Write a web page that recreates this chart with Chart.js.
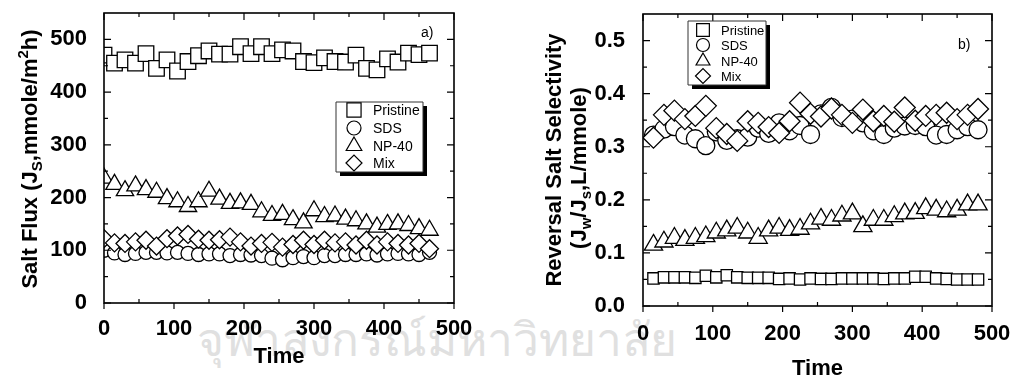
<!DOCTYPE html>
<html>
<head>
<meta charset="utf-8">
<script src="https://cdn.jsdelivr.net/npm/chart.js@4.4.0/dist/chart.umd.min.js"></script>
<style>
html, body { margin: 0; padding: 0; background: #fff; }
#wrap { position: relative; width: 1016px; height: 378px; overflow: hidden; }
.panel { position: absolute; top: 0; width: 508px; height: 378px; }
#panelA { left: 0; }
#panelB { left: 508px; }
#mark { position: absolute; left: 197px; top: 318px; font-size: 46px; line-height: 46px; color: #e0e0e0; white-space: nowrap; }
</style>
</head>
<body>
<div id="wrap">
  <div id="mark">จุฬาลงกรณ์มหาวิทยาลัย</div>
  <div class="panel" id="panelA"><canvas id="chartA" width="508" height="378"></canvas></div>
  <div class="panel" id="panelB"><canvas id="chartB" width="508" height="378"></canvas></div>
</div>
<script>
// panel a) salt flux
const timeA = [0, 15, 30, 45, 60, 75, 90, 105, 120, 135, 150, 165, 180, 195, 210, 225,
    240, 255, 270, 285, 300, 315, 330, 345, 360, 375, 390, 405, 420, 435, 450, 465];
const pristineA = [470, 455, 461, 455, 473, 445, 461, 440, 458, 469, 478, 472, 472, 486, 473, 486,
    473, 480, 478, 458, 456, 465, 458, 457, 470, 445, 442, 463, 457, 474, 471, 474];
const sdsA = [100, 95, 92, 94, 96, 96, 95, 96, 94, 92, 93, 93, 90, 92, 91, 90,
    85, 82, 86, 88, 86, 90, 90, 92, 92, 93, 91, 93, 94, 93, 92, 96];
const np40A = [237, 225, 213, 222, 215, 210, 198, 192, 183, 192, 212, 197, 189, 190, 187, 173,
    166, 168, 158, 152, 175, 164, 165, 159, 156, 150, 144, 149, 150, 147, 141, 138];
const mixA = [122, 114, 113, 116, 119, 108, 122, 127, 130, 121, 119, 120, 125, 116, 108, 113,
    115, 106, 111, 119, 111, 119, 114, 116, 110, 119, 110, 116, 113, 110, 113, 103];

// panel b) reversal salt selectivity
const timeB = [15, 30, 45, 60, 75, 90, 105, 120, 135, 150, 165, 180, 195, 210, 225, 240,
    255, 270, 285, 300, 315, 330, 345, 360, 375, 390, 405, 420, 435, 450, 465, 480];
const pristineB = [0.052, 0.054, 0.054, 0.054, 0.053, 0.057, 0.054, 0.058, 0.054, 0.053, 0.053, 0.053, 0.051, 0.052, 0.050, 0.052,
    0.051, 0.051, 0.052, 0.052, 0.052, 0.052, 0.051, 0.052, 0.052, 0.055, 0.055, 0.052, 0.051, 0.050, 0.050, 0.050];
const sdsB = [0.322, 0.333, 0.338, 0.322, 0.315, 0.302, 0.328, 0.312, 0.315, 0.318, 0.335, 0.325, 0.345, 0.330, 0.340, 0.323,
    0.362, 0.374, 0.355, 0.352, 0.345, 0.330, 0.323, 0.335, 0.339, 0.340, 0.338, 0.322, 0.323, 0.332, 0.338, 0.332];
const np40B = [0.115, 0.121, 0.128, 0.124, 0.128, 0.131, 0.138, 0.142, 0.147, 0.138, 0.128, 0.142, 0.147, 0.143, 0.145, 0.155,
    0.164, 0.162, 0.170, 0.174, 0.150, 0.162, 0.162, 0.169, 0.174, 0.175, 0.184, 0.181, 0.178, 0.181, 0.191, 0.191];
const mixB = [0.317, 0.360, 0.368, 0.352, 0.358, 0.377, 0.335, 0.324, 0.311, 0.348, 0.345, 0.337, 0.326, 0.348, 0.383, 0.362,
    0.357, 0.372, 0.360, 0.345, 0.370, 0.348, 0.358, 0.347, 0.374, 0.349, 0.358, 0.360, 0.364, 0.352, 0.360, 0.371];

const seriesNames = ['Pristine', 'SDS', 'NP-40', 'Mix'];
const xTicks = [0, 100, 200, 300, 400, 500];
const xMinor = [50, 150, 250, 350, 450];
const yTicksA = [0, 100, 200, 300, 400, 500];
const yMinorA = [50, 150, 250, 350, 450];
const yTicksB = [0, 0.1, 0.2, 0.3, 0.4, 0.5];
const yMinorB = [0.05, 0.15, 0.25, 0.35, 0.45];

const FONT = "'Liberation Sans', Arial, sans-serif";

// per-panel decorations, looked up by canvas id
const panels = {
    chartA: {
        yMajor: yTicksA, yMinor: yMinorA, xTitleY: 363,
        tag: { t: 'a)', x: 421, y: 37 },
        yTitles: [{ x: 37, y: 159, runs: [
            { t: 'Salt Flux (J', size: 22 }, { t: 'S', size: 15, dy: 5 },
            { t: ',mmole/m', size: 22 }, { t: '2', size: 15, dy: -9 }, { t: 'h)', size: 22 }] }],
        box: { left: 336, top: 102, width: 87, height: 70 },
        symX: 354, textX: 373, rows: [110, 128, 146, 163], symR: [10, 7, 9, 8], legendFont: 14
    },
    chartB: {
        yMajor: yTicksB, yMinor: yMinorB, xTitleY: 375,
        tag: { t: 'b)', x: 450, y: 49 },
        yTitles: [
            { x: 53, y: 160, runs: [{ t: 'Reversal Salt Selectivity', size: 22 }] },
            { x: 78, y: 168, runs: [
                { t: '(J', size: 22 }, { t: 'w', size: 15, dy: 5 }, { t: '/J', size: 22 },
                { t: 's', size: 15, dy: 5 }, { t: ',L/mmole)', size: 22 }] }],
        box: { left: 180, top: 21, width: 78, height: 64 },
        symX: 195, textX: 213, rows: [30, 45, 61, 76], symR: [9, 6.5, 8, 7.5], legendFont: 13
    }
};

function pairs(xs, ys) {
    return ys.map((y, i) => ({ x: xs[i], y: y }));
}

// rotated / plain text with sub- and superscripts
function drawRich(ctx, runs, cx, cy, rotate) {
    ctx.save();
    ctx.translate(cx, cy);
    if (rotate) ctx.rotate(-Math.PI / 2);
    let total = 0;
    const widths = runs.map(r => {
        ctx.font = 'bold ' + r.size + 'px ' + FONT;
        const w = ctx.measureText(r.t).width;
        total += w;
        return w;
    });
    let x = -total / 2;
    ctx.textAlign = 'left';
    ctx.textBaseline = 'alphabetic';
    ctx.fillStyle = '#000';
    runs.forEach((r, i) => {
        ctx.font = 'bold ' + r.size + 'px ' + FONT;
        ctx.fillText(r.t, x, r.dy || 0);
        x += widths[i];
    });
    ctx.restore();
}

function drawLegend(chart, o) {
    const ctx = chart.ctx;
    const b = o.box;
    ctx.save();
    ctx.beginPath();
    ctx.rect(b.left + 4, b.top + 4, b.width, b.height);
    ctx.fillStyle = '#000000';
    ctx.fill();
    ctx.beginPath();
    ctx.rect(b.left, b.top, b.width, b.height);
    ctx.fillStyle = '#ffffff';
    ctx.fill();
    ctx.lineWidth = 1;
    ctx.strokeStyle = '#333333';
    ctx.stroke();
    ctx.font = o.legendFont + 'px ' + FONT;
    ctx.textAlign = 'left';
    ctx.textBaseline = 'middle';
    chart.data.datasets.forEach((ds, i) => {
        const yy = o.rows[i];
        ctx.fillStyle = '#fff';
        ctx.strokeStyle = '#000';
        ctx.lineWidth = 1.2;
        Chart.helpers.drawPoint(ctx, { pointStyle: ds.pointStyle, radius: o.symR[i], borderWidth: 1.2, rotation: 0 }, o.symX, yy);
        ctx.fillStyle = '#000';
        ctx.fillText(ds.label, o.textX, yy + 1);
    });
    ctx.restore();
}

const framePlugin = {
    id: 'frame',
    afterDatasetsDraw(chart) {
        const o = panels[chart.canvas.id];
        const ctx = chart.ctx;
        const a = chart.chartArea;
        const xs = chart.scales.x;
        const ys = chart.scales.y;
        ctx.save();
        ctx.strokeStyle = '#000';
        ctx.lineWidth = 1.2;
        ctx.beginPath();
        xTicks.forEach(v => {
            const p = xs.getPixelForValue(v);
            ctx.moveTo(p, a.bottom); ctx.lineTo(p, a.bottom + 6);
            ctx.moveTo(p, a.top); ctx.lineTo(p, a.top + 7);
        });
        xMinor.forEach(v => {
            const p = xs.getPixelForValue(v);
            ctx.moveTo(p, a.bottom); ctx.lineTo(p, a.bottom - 4);
            ctx.moveTo(p, a.top); ctx.lineTo(p, a.top + 4);
        });
        o.yMajor.forEach(v => {
            const p = ys.getPixelForValue(v);
            ctx.moveTo(a.left, p); ctx.lineTo(a.left + 7, p);
            ctx.moveTo(a.right, p); ctx.lineTo(a.right - 7, p);
        });
        o.yMinor.forEach(v => {
            const p = ys.getPixelForValue(v);
            ctx.moveTo(a.left, p); ctx.lineTo(a.left + 4, p);
            ctx.moveTo(a.right, p); ctx.lineTo(a.right - 4, p);
        });
        ctx.stroke();
        ctx.lineWidth = 1.6;
        ctx.strokeRect(a.left, a.top, a.right - a.left, a.bottom - a.top);
        ctx.restore();
        drawLegend(chart, o);
    },
    afterDraw(chart) {
        const o = panels[chart.canvas.id];
        const ctx = chart.ctx;
        const a = chart.chartArea;
        // axis titles
        o.yTitles.forEach(t => drawRich(ctx, t.runs, t.x, t.y, true));
        drawRich(ctx, [{ t: 'Time', size: 22 }], (a.left + a.right) / 2, o.xTitleY, false);
        // panel tag
        ctx.save();
        ctx.font = '14px ' + FONT;
        ctx.fillStyle = '#000';
        ctx.textAlign = 'left';
        ctx.textBaseline = 'alphabetic';
        ctx.fillText(o.tag.t, o.tag.x, o.tag.y);
        ctx.restore();
    }
};

function makeDatasets(xs, lists, radii) {
    const styles = ['rect', 'circle', 'triangle', 'rectRot'];
    const order = [3, 2, 1, 0];
    return lists.map((ys, i) => ({
        label: seriesNames[i],
        data: pairs(xs, ys),
        showLine: false,
        pointStyle: styles[i],
        pointRadius: radii[i],
        pointHoverRadius: radii[i],
        pointBackgroundColor: '#fff',
        pointBorderColor: '#000',
        pointBorderWidth: 1.3,
        order: order[i],
        clip: 0
    }));
}

function noPad(s) {
    s.paddingTop = 0;
    s.paddingBottom = 0;
    s.paddingLeft = 0;
    s.paddingRight = 0;
}

function makeChart(id, cfg) {
    return new Chart(document.getElementById(id), {
        type: 'scatter',
        data: { datasets: cfg.datasets },
        options: {
            responsive: false,
            animation: false,
            events: [],
            layout: { autoPadding: false, padding: { left: 0, top: cfg.top, right: cfg.right, bottom: 0 } },
            scales: {
                x: {
                    type: 'linear', min: 0, max: 500,
                    grid: { display: false }, border: { display: false },
                    afterBuildTicks: s => { s.ticks = xTicks.map(v => ({ value: v })); },
                    afterFit: s => { s.height = cfg.xHeight; noPad(s); },
                    ticks: { color: '#000', padding: cfg.xPad, maxRotation: 0, font: { family: FONT, size: 22, weight: 'bold' } }
                },
                y: {
                    type: 'linear', min: 0, max: cfg.yMax,
                    grid: { display: false }, border: { display: false },
                    afterBuildTicks: s => { s.ticks = cfg.yTicks.map(v => ({ value: v })); },
                    afterFit: s => { s.width = cfg.yWidth; noPad(s); },
                    ticks: { color: '#000', padding: cfg.yPad, callback: cfg.yFmt, font: { family: FONT, size: 22, weight: 'bold' } }
                }
            },
            plugins: {
                legend: { display: false },
                tooltip: { enabled: false }
            }
        },
        plugins: [framePlugin]
    });
}

makeChart('chartA', {
    datasets: makeDatasets(timeA, [pristineA, sdsA, np40A, mixA], [11, 7, 10, 9]),
    top: 13, right: 54, xHeight: 75, yWidth: 104, xPad: 5, yPad: 9, yMax: 550,
    yTicks: yTicksA, yFmt: v => String(v)
});

makeChart('chartB', {
    datasets: makeDatasets(timeB, [pristineB, sdsB, np40B, mixB], [8, 9, 10.5, 10.5]),
    top: 14, right: 24, xHeight: 72, yWidth: 135, xPad: 7, yPad: 10, yMax: 0.55,
    yTicks: yTicksB, yFmt: v => v.toFixed(1)
});
</script>
</body>
</html>
